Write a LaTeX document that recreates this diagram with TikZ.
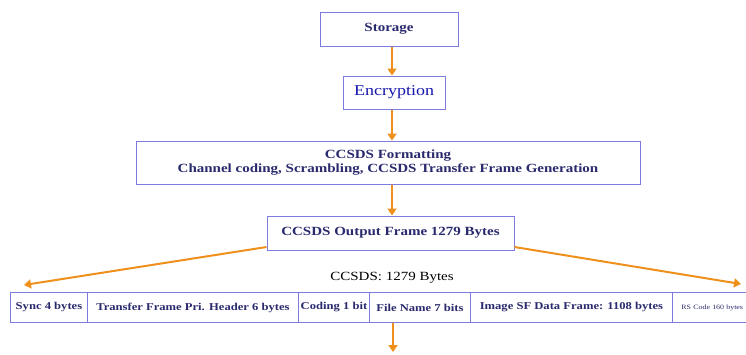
\documentclass[tikz,border=0pt]{standalone}
\usepackage{fontspec}
\setmainfont[FakeStretch=1.2]{Liberation Serif}
\usetikzlibrary{arrows.meta,positioning}
\definecolor{boxline}{HTML}{7C7CE0}
\definecolor{boxtext}{HTML}{2A2A6E}
\definecolor{flow}{HTML}{F0901C}

\begin{document}
\begin{tikzpicture}[
    x=1pt, y=-1pt,
    stage/.style={rectangle, draw=boxline, line width=1pt, fill=white, text=boxtext, font=\fontsize{12.5}{13.5}\selectfont\bfseries, inner sep=0pt, align=center},
    cell/.style={rectangle, draw=boxline, line width=0.9pt, fill=white, text=boxtext, font=\fontsize{10.5}{11}\selectfont\bfseries, inner sep=0pt, minimum height=30pt, anchor=north west},
    arrow/.style={-{Triangle[width=9pt,length=7pt]}, flow, line width=2pt}
]
    \useasboundingbox (0,0) rectangle (746,354);

    % processing chain
    \node[stage, minimum width=138pt, minimum height=34pt] (storage) at (389,29) {Storage};
    \node[stage, minimum width=102pt, minimum height=33pt, font=\fontsize{15}{16}\selectfont, text=blue!45!boxtext] (encrypt) at (394,92.5) {Encryption};
    \node[stage, minimum width=504pt, minimum height=43pt] (format) at (388,162.5) {CCSDS Formatting\\Channel coding, Scrambling, CCSDS Transfer Frame Generation};
    \node[stage, minimum width=247pt, minimum height=34pt, font=\fontsize{12.5}{13.5}\selectfont\bfseries] (output) at (390.5,233) {CCSDS Output Frame 1279 Bytes};

    % frame layout
    \node[font=\fontsize{12.5}{13.5}\selectfont] (total) at (392,278) {CCSDS: 1279 Bytes};
    \begin{scope}
        \clip (0,280) rectangle (746,330);
        \node[cell, minimum width=77pt] (sync) at (10,292) {Sync 4 bytes};
        \node[cell, minimum width=211pt] (header) at (87,292) {Transfer Frame Pri. Header 6 bytes};
        \node[cell, minimum width=71pt] (coding) at (298,292) {Coding 1 bit};
        \node[cell, minimum width=101pt] (fname) at (369,292) {File Name 7 bits};
        \node[cell, minimum width=202pt] (image) at (470,292) {Image SF Data Frame: 1108 bytes};
        \node[cell, minimum width=100pt, font=\fontsize{6.6}{8}\selectfont, align=left, text width=96pt] (rscode) at (672,292) {\hspace*{7pt}RS Code 160 bytes};
    \end{scope}

    \coordinate (leftend) at (24,285);
    \coordinate (rightend) at (741,284);
    \coordinate (downend) at (393,352);

    % arrows
    \draw[arrow] (storage.south -| 392,0) -- (encrypt.north -| 392,0);
    \draw[arrow] (encrypt.south -| 392,0) -- (format.north -| 392,0);
    \draw[arrow] (format.south -| 392,0) -- (output.north -| 392,0);
    \draw[arrow] ([yshift=-14pt]output.west) -- (leftend);
    \draw[arrow] ([yshift=-14pt]output.east) -- (rightend);
    \draw[arrow] (fname.south -| downend) -- (downend);
\end{tikzpicture}
\end{document}
